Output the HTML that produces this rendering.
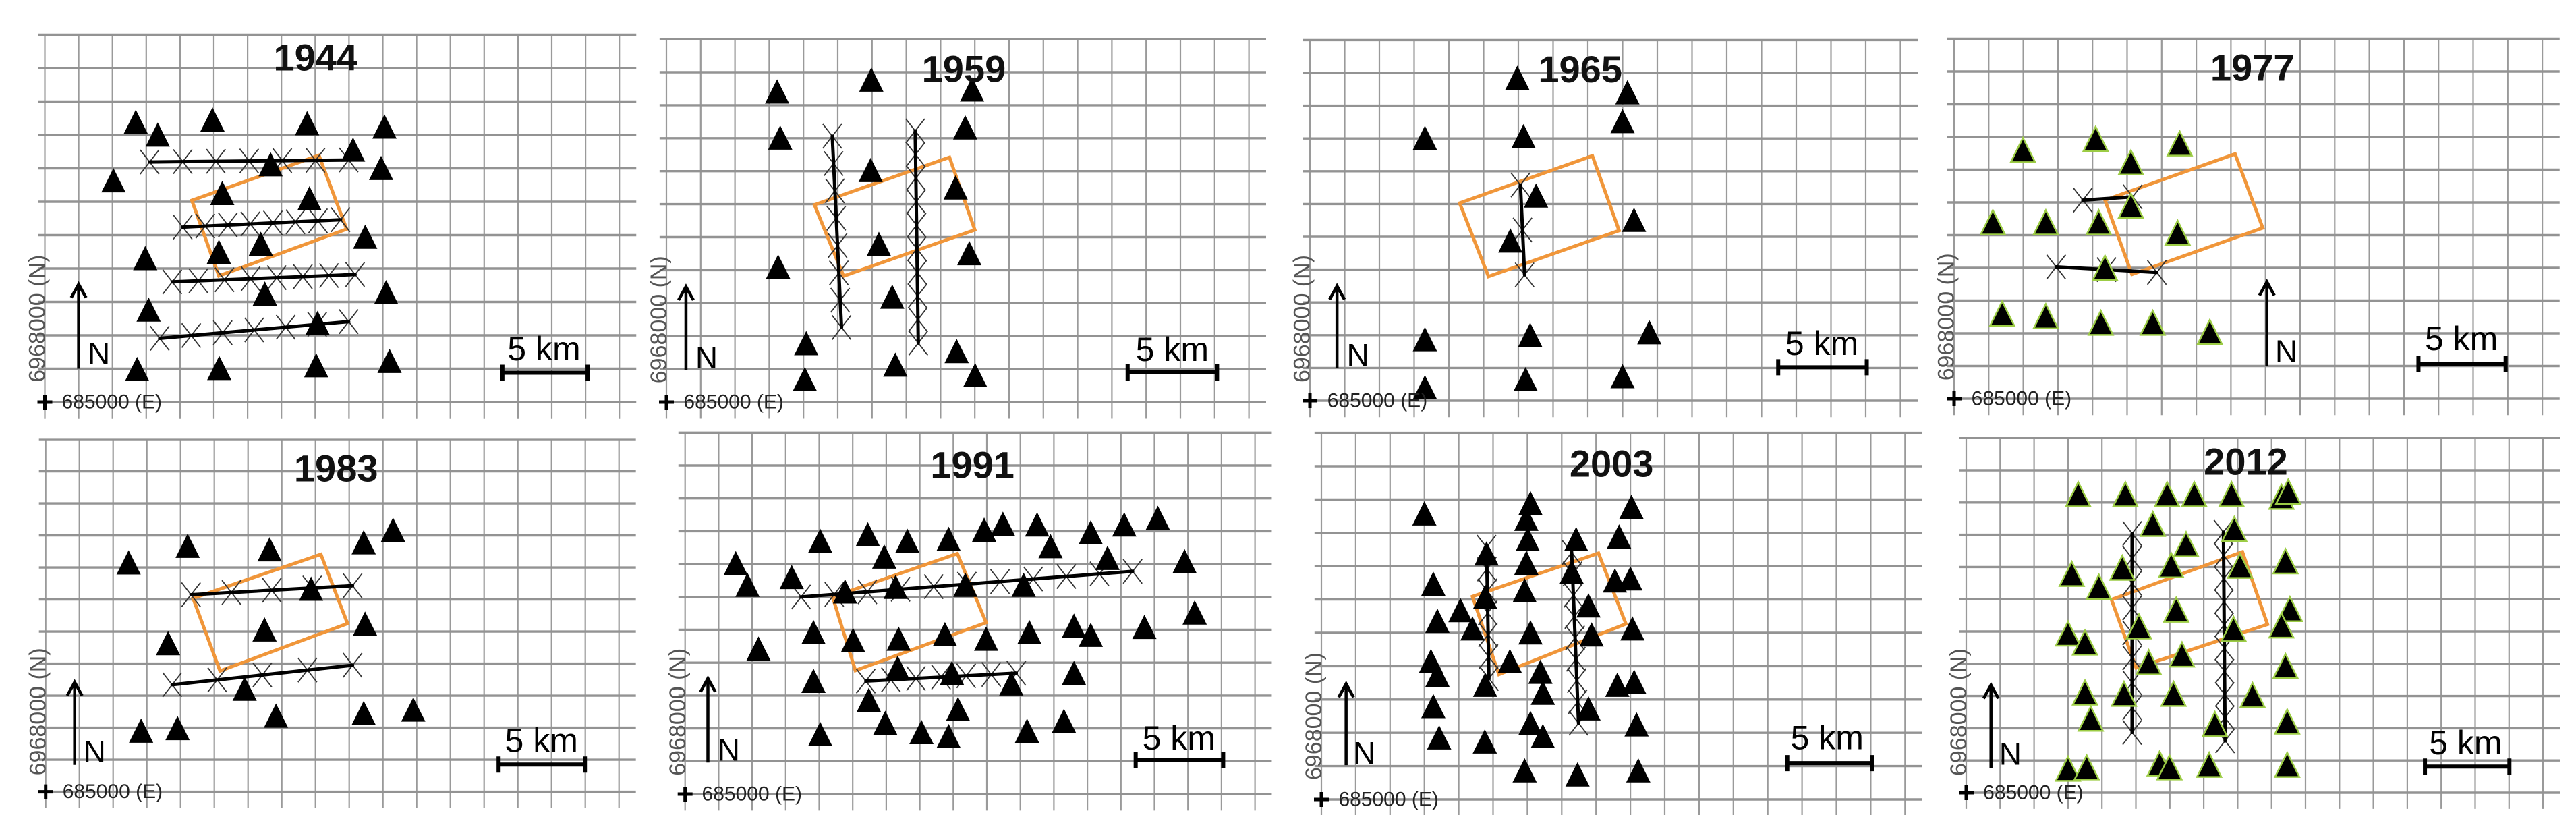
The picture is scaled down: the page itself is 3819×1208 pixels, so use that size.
<!DOCTYPE html>
<html><head><meta charset="utf-8"><style>
html,body{margin:0;padding:0;background:#fff;width:3819px;height:1208px;overflow:hidden}
svg{display:block}
text{font-family:"Liberation Sans Narrow","Liberation Sans",sans-serif}
</style></head><body>
<svg id="fig" width="3819" height="1208" viewBox="0 0 3819 1208" xmlns="http://www.w3.org/2000/svg"></svg>
<script>
const years=["1944","1959","1965","1977","1983","1991","2003","2012"];
const tri1944=[[2.69,8.03],[3.34,7.65],[4.96,8.10],[7.76,7.99],[10.05,7.89],[9.12,7.20],[9.95,6.65],[6.68,6.76],[2.03,6.28],[5.25,5.90],[7.83,5.74],[9.48,4.59],[6.39,4.38],[5.15,4.14],[2.97,3.95],[6.51,2.89],[10.1,2.93],[3.07,2.41],[8.07,2.01],[2.73,0.63],[5.16,0.66],[8.03,0.74],[10.2,0.87]];
const tri1959=[[3.23,9.05],[5.98,9.41],[8.92,9.11],[3.32,7.65],[8.72,7.96],[5.96,6.67],[8.44,6.14],[6.20,4.43],[8.84,4.15],[3.26,3.74],[6.59,2.83],[4.08,1.42],[8.47,1.18],[6.68,0.77],[4.04,0.33],[9.01,0.45]];
const tri1965=[[5.97,9.48],[9.14,9.04],[9.0,8.16],[3.31,7.65],[6.15,7.70],[6.51,5.89],[9.33,5.15],[5.77,4.52],[3.31,1.51],[6.34,1.64],[9.77,1.72],[3.31,0.04],[6.21,0.29],[9.0,0.38]];
const tri1977=[[1.99,7.23],[4.09,7.57],[6.52,7.43],[5.11,6.85],[1.12,5.02],[2.65,5.02],[4.18,5.02],[5.11,5.53],[6.46,4.70],[4.36,3.63],[1.39,2.23],[2.65,2.15],[4.24,1.95],[5.74,1.95],[7.39,1.67]];
const tri1983=[[2.46,6.78],[4.21,7.30],[6.64,7.19],[9.43,7.41],[10.3,7.80],[7.87,5.96],[9.47,4.87],[6.49,4.69],[3.63,4.26],[5.90,2.84],[6.83,2.0],[9.43,2.08],[10.9,2.19],[2.83,1.53],[3.91,1.61]];
const tri1991=[[1.51,6.66],[1.86,6.0],[3.18,6.24],[4.03,7.34],[5.45,7.54],[6.63,7.34],[7.86,7.40],[8.92,7.68],[9.48,7.86],[10.5,7.84],[10.9,7.18],[12.1,7.60],[13.1,7.84],[14.1,8.04],[12.6,6.82],[14.9,6.72],[5.94,6.86],[4.77,5.80],[6.28,5.94],[8.36,6.0],[10.1,6.0],[15.2,5.16],[3.83,4.56],[5.01,4.32],[6.37,4.36],[7.75,4.50],[8.98,4.36],[10.27,4.56],[11.6,4.76],[12.1,4.48],[13.7,4.72],[2.19,4.06],[6.34,3.48],[7.96,3.32],[9.73,3.0],[3.83,3.08],[11.6,3.32],[5.48,2.50],[8.14,2.22],[5.97,1.80],[7.05,1.52],[7.86,1.40],[4.03,1.46],[10.2,1.56],[11.3,1.86]];
const tri2003=[[3.0,8.22],[6.09,8.53],[9.03,8.42],[5.97,8.06],[6.01,7.45],[8.67,7.53],[7.42,7.45],[4.81,7.02],[5.97,6.74],[7.29,6.47],[8.55,6.21],[9.0,6.27],[3.26,6.11],[5.92,5.91],[4.77,5.72],[4.05,5.32],[3.38,5.0],[7.78,5.46],[9.06,4.77],[4.40,4.77],[6.09,4.65],[7.87,4.59],[5.49,3.79],[3.19,3.79],[3.38,3.38],[6.38,3.47],[4.77,3.08],[6.45,2.84],[8.62,3.08],[9.11,3.17],[3.26,2.44],[6.09,1.93],[7.78,2.37],[9.18,1.89],[3.43,1.50],[4.76,1.38],[6.45,1.54],[5.92,0.51],[7.46,0.39],[9.23,0.51]];
const tri2012=[[3.30,8.88],[4.69,8.88],[5.92,8.88],[6.72,8.88],[7.82,8.88],[9.29,8.80],[9.49,8.96],[5.50,7.96],[7.90,7.80],[6.48,7.33],[6.04,6.68],[4.60,6.60],[8.07,6.66],[9.41,6.80],[3.11,6.41],[3.91,6.01],[6.19,5.30],[9.54,5.32],[5.09,4.78],[7.88,4.70],[9.29,4.81],[3.0,4.56],[3.50,4.28],[5.38,3.67],[6.36,3.91],[9.41,3.55],[3.50,2.73],[4.65,2.69],[6.11,2.69],[8.44,2.65],[3.67,1.92],[7.33,1.75],[9.46,1.83],[3.0,0.37],[3.55,0.41],[5.70,0.53],[5.99,0.41],[7.16,0.49],[9.46,0.49]];
const profiles1944=[[3.10,7.19,8.99,7.25,7],[4.08,5.24,8.75,5.46,8],[3.77,3.60,9.18,3.82,8],[3.40,1.91,8.99,2.41,7]];
const profiles1959=[[4.84,8.06,5.11,2.26,8],[7.26,8.22,7.35,1.79,10]];
const profiles1965=[[6.06,6.58,6.18,3.84,3]];
const profiles1977=[[3.72,6.07,5.16,6.17,2],[2.95,4.03,5.86,3.86,3]];
const profiles1983=[[4.31,6.15,9.10,6.43,5],[3.75,3.34,9.10,3.95,5]];
const profiles1991=[[3.46,6.0,13.35,6.78,11],[5.39,3.44,9.88,3.68,7]];
const profiles2003=[[4.81,7.57,4.88,3.63,7],[7.29,7.41,7.49,2.29,9]];
const profiles2012=[[4.89,8.04,4.89,1.87,9],[7.58,8.08,7.63,1.61,10]];
const area1944=[[4.35,6.04],[8.11,7.39],[8.93,5.18],[5.15,3.78]];
const area1959=[[4.32,5.98],[8.26,7.42],[9.0,5.22],[5.17,3.82]];
const area1965=[[4.31,6.03],[8.13,7.47],[8.90,5.19],[5.14,3.79]];
const area1977=[[4.36,6.07],[8.12,7.48],[8.92,5.22],[5.14,3.80]];
const area1983=[[4.37,6.04],[8.16,7.41],[8.95,5.25],[5.17,3.77]];
const area1991=[[4.40,6.0],[8.12,7.32],[8.98,5.22],[5.08,3.76]];
const area2003=[[4.40,6.09],[8.07,7.39],[8.87,5.27],[5.17,3.75]];
const area2012=[[4.28,5.99],[8.14,7.47],[8.88,5.22],[5.01,3.87]];
const triSets=[tri1944,tri1959,tri1965,tri1977,tri1983,tri1991,tri2003,tri2012];
const profileSets=[profiles1944,profiles1959,profiles1965,profiles1977,profiles1983,profiles1991,profiles2003,profiles2012];
const areaSets=[area1944,area1959,area1965,area1977,area1983,area1991,area2003,area2012];

const layout=[
 {x0:66.5,y0:596,cw:50.1,ch:49.5,title:[8.01,10.32],north:[1.0,1.0,3.53],nl:[1.6,1.45],scale:[13.54,16.06,0.88],km:[14.77,1.6],green:false},
 {x0:988,y0:596,cw:50.8,ch:48.9,title:[8.68,10.1],north:[0.57,0.98,3.5],nl:[1.17,1.35],scale:[13.46,16.07,0.9],km:[14.76,1.6],green:false},
 {x0:1942,y0:594,cw:51.5,ch:48.6,title:[7.78,10.11],north:[0.78,1.0,3.5],nl:[1.38,1.4],scale:[13.48,16.03,1.02],km:[14.74,1.75],green:false},
 {x0:2897,y0:591,cw:51.3,ch:48.5,title:[8.62,10.12],north:[9.04,1.01,3.57],nl:[9.6,1.45],scale:[13.42,15.94,1.07],km:[14.66,1.83],green:true},
 {x0:67.7,y0:1173.6,cw:50.0,ch:47.5,title:[8.61,10.1],north:[0.86,0.84,3.42],nl:[1.45,1.26],scale:[13.43,15.99,0.85],km:[14.7,1.6],green:false},
 {x0:1015.7,y0:1177,cw:49.7,ch:48.7,title:[8.57,10.02],north:[0.68,0.96,3.52],nl:[1.3,1.35],scale:[13.44,16.05,1.04],km:[14.73,1.7],green:false},
 {x0:1959,y0:1185,cw:50.9,ch:49.4,title:[8.45,10.08],north:[0.72,1.03,3.47],nl:[1.25,1.4],scale:[13.57,16.04,1.09],km:[14.73,1.85],green:false},
 {x0:2915,y0:1175,cw:50.3,ch:47.8,title:[8.24,10.27],north:[0.73,0.77,3.34],nl:[1.3,1.2],scale:[13.52,16.01,0.81],km:[14.72,1.55],green:true}
];

const NS="http://www.w3.org/2000/svg";
const svg=document.getElementById('fig');
function mk(tag,attrs,parent){const e=document.createElementNS(NS,tag);for(const k in attrs)e.setAttribute(k,attrs[k]);(parent||svg).appendChild(e);return e;}

layout.forEach((L,i)=>{
  const X=u=>L.x0+u*L.cw, Y=v=>L.y0-v*L.ch;
  const g=mk('g',{});
  
  
  for(let c=0;c<=17;c++){
    const l=mk('line',{x1:X(c),x2:X(c),y1:Y(11),y2:Y(-0.5),stroke:'#9a9a9a','stroke-width':2.2},g);
    
    
  }
  for(let r=0;r<=11;r++){
    const l=mk('line',{x1:X(-0.2),x2:X(17.5),y1:Y(r),y2:Y(r),stroke:'#939393','stroke-width':3.4},g);
    
    
  }
  const a=areaSets[i];
  const poly=mk('polygon',{points:a.map(p=>X(p[0])+','+Y(p[1])).join(' '),fill:'none',stroke:'#f0963a','stroke-width':5},g);
  
  
  profileSets[i].forEach(p=>{
    const [u1,v1,u2,v2,n]=p;
    for(let k=0;k<n;k++){
      const t=n>1?k/(n-1):0;
      const cx=X(u1+(u2-u1)*t), cy=Y(v1+(v2-v1)*t);
      const m=mk('path',{d:`M${cx-14},${cy-18}L${cx+14},${cy+18}M${cx+14},${cy-18}L${cx-14},${cy+18}`,stroke:'#333','stroke-width':1.8,fill:'none'},g);
      
      
    }
    const ln=mk('line',{x1:X(u1),y1:Y(v1),x2:X(u2),y2:Y(v2),stroke:'#000','stroke-width':5,'stroke-linecap':'round'},g);
    
    
  });
  triSets[i].forEach(p=>{
    const cx=X(p[0]), by=Y(p[1]);
    const t=mk('polygon',{points:`${cx-18},${by} ${cx+18},${by} ${cx},${by-36}`,fill:'#000',stroke:L.green?'#9ccc45':'none','stroke-width':L.green?2.5:0},g);
    
    
  });
  const tt=mk('text',{x:X(L.title[0]),y:Y(L.title[1]),'text-anchor':'middle','dominant-baseline':'central','font-size':56,'font-weight':'bold',fill:'#111'},g);
  tt.textContent=years[i];
  
  
  const [nu,nv0,nv1]=L.north;
  const na=mk('path',{d:`M${X(nu)},${Y(nv0)}L${X(nu)},${Y(nv1)}M${X(nu)-11},${Y(nv1)+20}L${X(nu)},${Y(nv1)}L${X(nu)+11},${Y(nv1)+20}`,stroke:'#000','stroke-width':4.5,fill:'none'},g);
  
  
  const nt=mk('text',{x:X(L.nl[0]),y:Y(L.nl[1]),'text-anchor':'middle','dominant-baseline':'central','font-size':46,fill:'#000'},g);
  nt.textContent='N';
  
  
  const [s0,s1,sv]=L.scale;
  const sb=mk('path',{d:`M${X(s0)},${Y(sv)}L${X(s1)},${Y(sv)}M${X(s0)},${Y(sv)-12}L${X(s0)},${Y(sv)+12}M${X(s1)},${Y(sv)-12}L${X(s1)},${Y(sv)+12}`,stroke:'#000','stroke-width':6,fill:'none'},g);
  
  
  const kt=mk('text',{x:X(L.km[0]),y:Y(L.km[1]),'text-anchor':'middle','dominant-baseline':'central','font-size':50,fill:'#000'},g);
  kt.textContent='5 km';
  
  
  const vx=X(-0.22), vy=Y(2.5);
  const vl=mk('text',{x:vx,y:vy,'text-anchor':'middle','dominant-baseline':'central','font-size':34,fill:'#555',transform:`rotate(-90 ${vx} ${vy})`},g);
  vl.textContent='6968000 (N)';
  
  
  const pl=mk('path',{d:`M${X(0)-11},${Y(0)}L${X(0)+11},${Y(0)}M${X(0)},${Y(0)-11}L${X(0)},${Y(0)+11}`,stroke:'#000','stroke-width':5},g);
  
  
  const el=mk('text',{x:X(0.5),y:Y(0),'dominant-baseline':'central','font-size':30,fill:'#222'},g);
  el.textContent='685000 (E)';
  
  
});
</script>
</body></html>
